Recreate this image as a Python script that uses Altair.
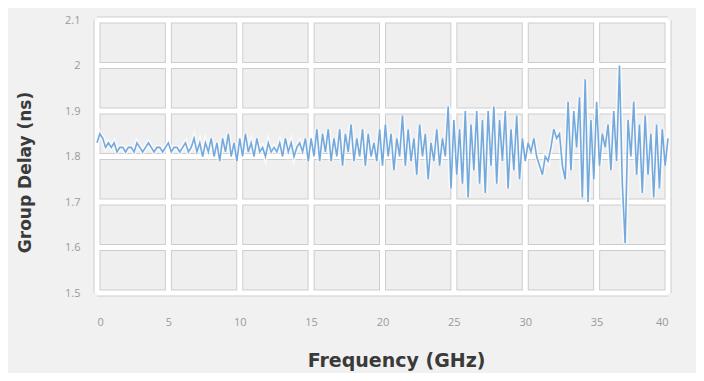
import altair as alt
import pandas as pd

# Frequency step 0.2 GHz, 0..40 GHz
group_delay = [
    1.83, 1.85, 1.84, 1.82, 1.83,
    1.82, 1.83, 1.81, 1.82, 1.82,
    1.81, 1.82, 1.82, 1.81, 1.83,
    1.82, 1.81, 1.82, 1.83, 1.82,
    1.81, 1.82, 1.82, 1.81, 1.82,
    1.83, 1.81, 1.82, 1.82, 1.81,
    1.82, 1.83, 1.81, 1.82, 1.84,
    1.81, 1.83, 1.80, 1.83, 1.81,
    1.84, 1.80, 1.83, 1.79, 1.84,
    1.81, 1.85, 1.80, 1.83, 1.79,
    1.84, 1.80, 1.85, 1.81, 1.83,
    1.80, 1.84, 1.81, 1.82, 1.80,
    1.83, 1.81, 1.82, 1.81, 1.83,
    1.80, 1.84, 1.81, 1.83, 1.80,
    1.82, 1.83, 1.81, 1.84, 1.79,
    1.84, 1.80, 1.86, 1.79, 1.85,
    1.81, 1.86, 1.79, 1.84, 1.80,
    1.86, 1.78, 1.85, 1.81, 1.87,
    1.79, 1.84, 1.80, 1.86, 1.78,
    1.85, 1.80, 1.83, 1.79, 1.86,
    1.78, 1.87, 1.80, 1.85, 1.77,
    1.84, 1.80, 1.89, 1.78, 1.86,
    1.79, 1.84, 1.76, 1.87, 1.80,
    1.85, 1.75, 1.83, 1.79, 1.86,
    1.78, 1.84, 1.80, 1.91, 1.73,
    1.88, 1.76, 1.86, 1.74, 1.90,
    1.71, 1.87, 1.77, 1.90, 1.74,
    1.88, 1.72, 1.90, 1.78, 1.91,
    1.74, 1.88, 1.79, 1.90, 1.73,
    1.86, 1.77, 1.89, 1.75, 1.84,
    1.79, 1.83, 1.81, 1.84, 1.80,
    1.78, 1.76, 1.80, 1.79, 1.82,
    1.86, 1.84, 1.85, 1.78, 1.75,
    1.92, 1.77, 1.90, 1.82, 1.93,
    1.71, 1.97, 1.70, 1.88, 1.75,
    1.92, 1.78, 1.85, 1.82, 1.87,
    1.77, 1.90, 1.79, 2.00, 1.74,
    1.61, 1.88, 1.80, 1.92, 1.76,
    1.87, 1.72, 1.89, 1.76, 1.85,
    1.71, 1.87, 1.73, 1.86, 1.78,
    1.84,
]
frequency = [round(i * 0.2, 1) for i in range(len(group_delay))]

x_ticks = [0, 5, 10, 15, 20, 25, 30, 35, 40]
y_ticks = [1.5, 1.6, 1.7, 1.8, 1.9, 2.0, 2.1]

df = pd.DataFrame({"f": frequency, "d": group_delay})
xt = pd.DataFrame({"f": x_ticks})
yt = pd.DataFrame({"d": y_ticks})

xscale = alt.Scale(domain=[0, 40], nice=False, zero=False)
yscale = alt.Scale(domain=[1.5, 2.1], nice=False, zero=False)

xaxis = alt.Axis(values=x_ticks, title="Frequency (GHz)", grid=False,
                 domain=False, ticks=False, tickSize=0, labelPadding=23,
                 labelFontSize=11, labelColor="#9a9a9a", labelFont="Open Sans",
                 titleFont="DejaVu Sans", titleFontWeight="bold", titleFontSize=19,
                 titleColor="#3a3a3a", titleX=299, titleY=67,
                 titleBaseline="middle", titleAlign="center")
yaxis = alt.Axis(values=y_ticks, title="Group Delay (ns)", grid=False,
                 domain=False, ticks=False, tickSize=0, labelPadding=17,
                 labelFontSize=11, labelColor="#9a9a9a", labelFont="Open Sans",
                 labelExpr="datum.value == 2 ? '2' : format(datum.value, '.1f')",
                 titleFont="DejaVu Sans", titleFontWeight="bold", titleFontSize=17,
                 titleColor="#3a3a3a", titleX=-72, titleY=152, titleAngle=270,
                 titleBaseline="middle", titleAlign="center")

X = alt.X("f:Q", scale=xscale, axis=xaxis)
Y = alt.Y("d:Q", scale=yscale, axis=yaxis)

GRID_DARK = "#cdcdcd"
GRID_LIGHT = "#ffffff"

vrule_dark = alt.Chart(xt).mark_rule(color=GRID_DARK, strokeWidth=7).encode(x=X)
hrule_dark = alt.Chart(yt).mark_rule(color=GRID_DARK, strokeWidth=7).encode(y=Y)
vrule_light = alt.Chart(xt).mark_rule(color=GRID_LIGHT, strokeWidth=5).encode(x=X)
hrule_light = alt.Chart(yt).mark_rule(color=GRID_LIGHT, strokeWidth=5).encode(y=Y)

halo = alt.Chart(df).mark_line(color="#ffffff", strokeWidth=5, opacity=0.6).encode(x=X, y=Y)
line = alt.Chart(df).mark_line(color="#74a9dd", strokeWidth=1.6).encode(x=X, y=Y)

chart = alt.layer(vrule_dark, hrule_dark, vrule_light, hrule_light, halo, line).properties(
    width=571,
    height=273,
    autosize=alt.AutoSizeParams(type="none"),
    padding={"left": 89, "top": 12, "right": 28, "bottom": 80},
    background="#f1f1f1",
).configure_view(fill="#efefef", stroke=None)

chart.save("out.html", embed_options={"renderer": "svg", "actions": False})
